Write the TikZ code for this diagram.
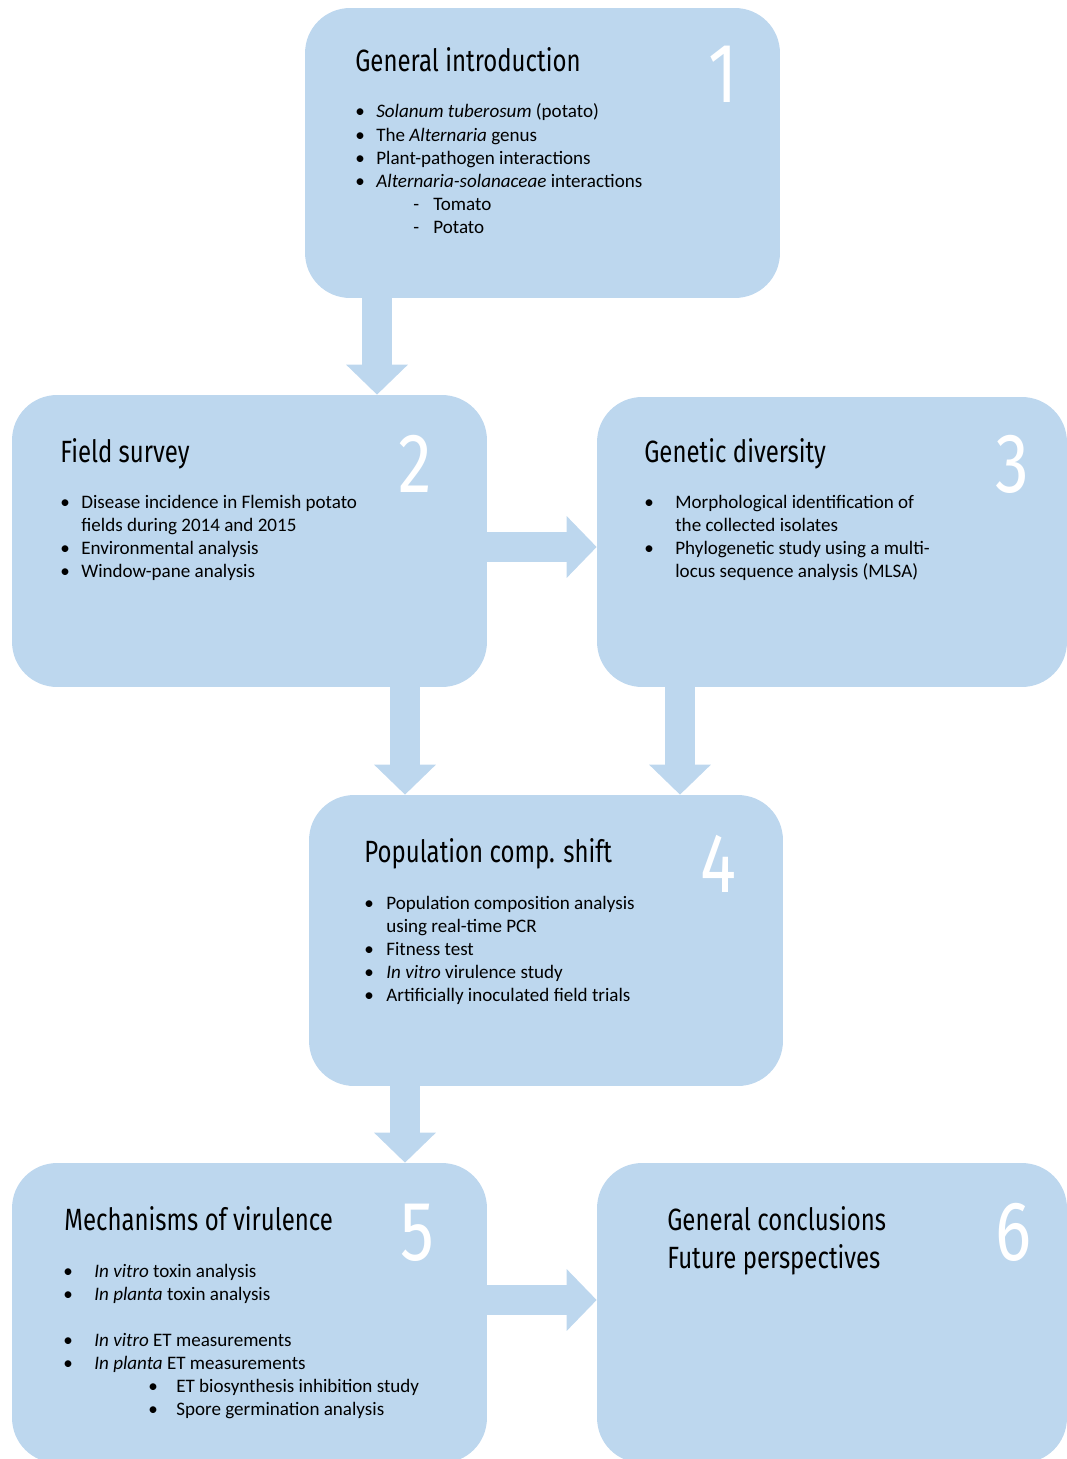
\documentclass[tikz,border=0pt]{standalone}
\usepackage{fontspec}
\setmainfont{Carlito}
\newfontfamily\titlefont[FakeStretch=0.78]{Fira Sans}
\newfontfamily\numfont[FakeStretch=0.8]{Fira Sans}
\usetikzlibrary{arrows.meta,calc}
\definecolor{boxblue}{HTML}{BDD7EE}
\newcommand\bl[3]{\hspace*{#1}\makebox[#2][l]{\textbullet}#3}
\newcommand\dl[3]{\hspace*{#1}\makebox[#2][l]{-}#3}
\tikzset{
  box/.style={fill=boxblue, draw=none, rounded corners=0.9cm, inner sep=0pt},
  ttl/.style={anchor=base west, inner sep=0pt, font=\titlefont\fontsize{17.5}{21.6}\selectfont},
  num/.style={anchor=base west, inner sep=0pt, text=white, font=\numfont\fontsize{48}{50}\selectfont},
  body/.style={anchor=base west, inner sep=0pt, font=\fontsize{10.85}{13.1}\selectfont},
  flow/.style={draw=boxblue, line width=0.6cm, -{Triangle[width=1.2cm,length=0.6cm]}, shorten <=-1pt}
}
\begin{document}
\begin{tikzpicture}[x=0.02cm,y=-0.02cm]
\useasboundingbox (0,0) rectangle (1067,1459);
% boxes
\node[box, minimum width=9.5cm, minimum height=5.8cm] (b1) at (542.5,153) {};
\node[box, minimum width=9.5cm, minimum height=5.84cm] (b2) at (249.5,541) {};
\node[box, minimum width=9.4cm, minimum height=5.8cm] (b3) at (832,542) {};
\node[box, minimum width=9.48cm, minimum height=5.82cm] (b4) at (546,940.5) {};
\node[box, minimum width=9.5cm, minimum height=6.0cm] (b5) at (249.5,1313) {};
\node[box, minimum width=9.4cm, minimum height=6.0cm] (b6) at (832,1313) {};
% arrow positions
\coordinate (x12) at (377,0);
\coordinate (y23) at (0,547);
\coordinate (x24) at (405,0);
\coordinate (x34) at (680,0);
\coordinate (x45) at (405,0);
\coordinate (y56) at (0,1300);
\draw[flow] (b1.south -| x12) -- (b2.north -| x12);
\draw[flow] (b2.east |- y23) -- (b3.west |- y23);
\draw[flow] (b2.south -| x24) -- (b4.north -| x24);
\draw[flow] (b3.south -| x34) -- (b4.north -| x34);
\draw[flow] (b4.south -| x45) -- (b5.north -| x45);
\draw[flow] (b5.east |- y56) -- (b6.west |- y56);
% box 1
\node[ttl] (t1) at (355,72) {General introduction};
\node[num] (n1) at (708,103) {1};
\node[body] (l1) at (355,118) {\begin{tabular}[t]{@{}l@{}}
\bl{0cm}{0.42cm}{\textit{Solanum tuberosum} (potato)}\\
\bl{0cm}{0.42cm}{The \textit{Alternaria} genus}\\
\bl{0cm}{0.42cm}{Plant-pathogen interactions}\\
\bl{0cm}{0.42cm}{\textit{Alternaria-solanaceae} interactions}\\
\dl{1.16cm}{0.4cm}{Tomato}\\
\dl{1.16cm}{0.4cm}{Potato}
\end{tabular}};
% box 2
\node[ttl] (t2) at (60,462) {Field survey};
\node[num] (n2) at (398,492) {2};
\node[body] (l2) at (60,508) {\begin{tabular}[t]{@{}l@{}}
\bl{0cm}{0.42cm}{Disease incidence in Flemish potato}\\
\hspace*{0.42cm}fields during 2014 and 2015\\
\bl{0cm}{0.42cm}{Environmental analysis}\\
\bl{0cm}{0.42cm}{Window-pane analysis}
\end{tabular}};
% box 3
\node[ttl] (t3) at (644,462) {Genetic diversity};
\node[num] (n3) at (995,492) {3};
\node[body] (l3) at (644,508) {\begin{tabular}[t]{@{}l@{}}
\bl{0cm}{0.62cm}{Morphological identification of}\\
\hspace*{0.62cm}the collected isolates\\
\bl{0cm}{0.62cm}{Phylogenetic study using a multi-}\\
\hspace*{0.62cm}locus sequence analysis (MLSA)
\end{tabular}};
% box 4
\node[ttl] (t4) at (364,862) {Population comp. shift};
\node[num] (n4) at (700,892) {4};
\node[body] (l4) at (364,909) {\begin{tabular}[t]{@{}l@{}}
\bl{0cm}{0.44cm}{Population composition analysis}\\
\hspace*{0.44cm}using real-time PCR\\
\bl{0cm}{0.44cm}{Fitness test}\\
\bl{0cm}{0.44cm}{\textit{In vitro} virulence study}\\
\bl{0cm}{0.44cm}{Artificially inoculated field trials}
\end{tabular}};
% box 5
\node[ttl] (t5) at (64,1230) {Mechanisms of virulence};
\node[num] (n5) at (400,1260) {5};
\node[body] (l5) at (63,1277) {\begin{tabular}[t]{@{}l@{}}
\bl{0cm}{0.62cm}{\textit{In vitro} toxin analysis}\\
\bl{0cm}{0.62cm}{\textit{In planta} toxin analysis}\\[13.1pt]
\bl{0cm}{0.62cm}{\textit{In vitro} ET measurements}\\
\bl{0cm}{0.62cm}{\textit{In planta} ET measurements}\\
\bl{1.7cm}{0.56cm}{ET biosynthesis inhibition study}\\
\bl{1.7cm}{0.56cm}{Spore germination analysis}
\end{tabular}};
% box 6
\node[ttl] (t6) at (667,1230) {General conclusions};
\node[ttl] (t6b) at (667,1268) {Future perspectives};
\node[num] (n6) at (995,1260) {6};
\end{tikzpicture}
\end{document}
